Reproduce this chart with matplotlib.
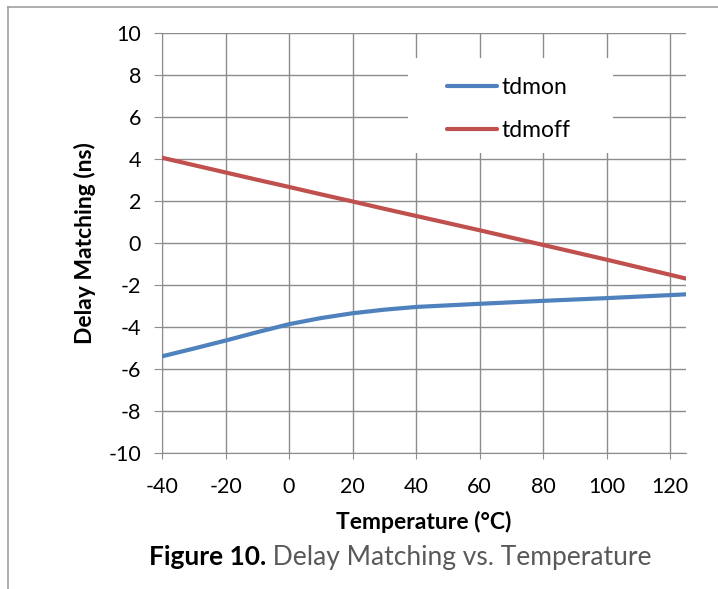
import matplotlib.pyplot as plt
from matplotlib.lines import Line2D
from matplotlib.patches import Rectangle

plt.rcParams['font.family'] = ['Lato', 'DejaVu Sans']
plt.rcParams['axes.unicode_minus'] = False

# 温度点 (°C)
temp = [-40, -30, -20, -10, 0, 10, 20, 30, 40, 60, 80, 100, 125]
tdmon = [-5.4, -5.03, -4.65, -4.25, -3.87, -3.58, -3.35, -3.18, -3.05, -2.9, -2.76, -2.63, -2.45]
tdmoff = [4.05, 3.7, 3.35, 3.0, 2.66, 2.31, 1.97, 1.62, 1.28, 0.6, -0.1, -0.8, -1.7]

xticks = [-40, -20, 0, 20, 40, 60, 80, 100, 120]
yticks = [-10, -8, -6, -4, -2, 0, 2, 4, 6, 8, 10]

grid_c = '#8c8c8c'
W, H = 718, 589
fs = 15.5

fig = plt.figure(figsize=(7.18, 5.89), dpi=100)
ax = fig.add_axes([162/W, 1-453/H, (686-162)/W, (453-32.7)/H])

ax.plot(temp, tdmon, color='#4F81BD', lw=3, solid_capstyle='round', zorder=3)
ax.plot(temp, tdmoff, color='#C0504D', lw=3, solid_capstyle='round', zorder=3)

ax.set_xlim(-40, 125)
ax.set_ylim(-10, 10)
ax.set_xticks(xticks)
ax.set_yticks(yticks)
ax.grid(True, color=grid_c, lw=1)
ax.tick_params(labelsize=fs, color=grid_c)
ax.tick_params(axis='x', length=4, pad=13)
ax.tick_params(axis='y', length=6, pad=9)
for s in ['top', 'right']:
    ax.spines[s].set_visible(False)
for s in ['left', 'bottom']:
    ax.spines[s].set_color(grid_c)
ax.set_axisbelow(True)

ax.set_xlabel('Temperature (°C)', fontsize=16.5, fontweight='bold', labelpad=10)
ax.set_ylabel('Delay Matching (ns)', fontsize=16.5, fontweight='bold', labelpad=9)

# 图例背景：白色矩形盖住网格
fig.add_artist(Rectangle((408/W, 1-153/H), (613-408)/W, (153-58)/H,
                         facecolor='white', edgecolor='none', zorder=2))
handles = [Line2D([0], [0], color='#4F81BD', lw=3, solid_capstyle='round'),
           Line2D([0], [0], color='#C0504D', lw=3, solid_capstyle='round')]
leg = fig.legend(handles, ['tdmon', 'tdmoff'], loc='center left',
                 bbox_to_anchor=(447/W, 1-109/H), frameon=False,
                 fontsize=16.5, handlelength=2.2, handletextpad=0.17,
                 labelspacing=1.0, borderpad=0, borderaxespad=0)
leg.set_zorder(5)

# 外框（上边和左边）
fig.add_artist(Line2D([8/W, 1], [1-7/H, 1-7/H], color='#a0a0a0', lw=1.2))
fig.add_artist(Line2D([8/W, 8/W], [0, 1-7/H], color='#a0a0a0', lw=1.2))

# 图题
t1 = fig.text(0.0, 1-557/H, 'Figure 10.', fontsize=19, fontweight='bold',
              color='black', va='center')
t2 = fig.text(0.0, 1-557/H, ' Delay Matching vs. Temperature', fontsize=19,
              color='#595959', va='center')
fig.canvas.draw()
r = fig.canvas.get_renderer()
w1 = t1.get_window_extent(r).width
w2 = t2.get_window_extent(r).width
x0 = 400 - (w1 + w2) / 2
t1.set_x(x0 / W)
t2.set_x((x0 + w1) / W)

fig.savefig('out.png', dpi=100)
